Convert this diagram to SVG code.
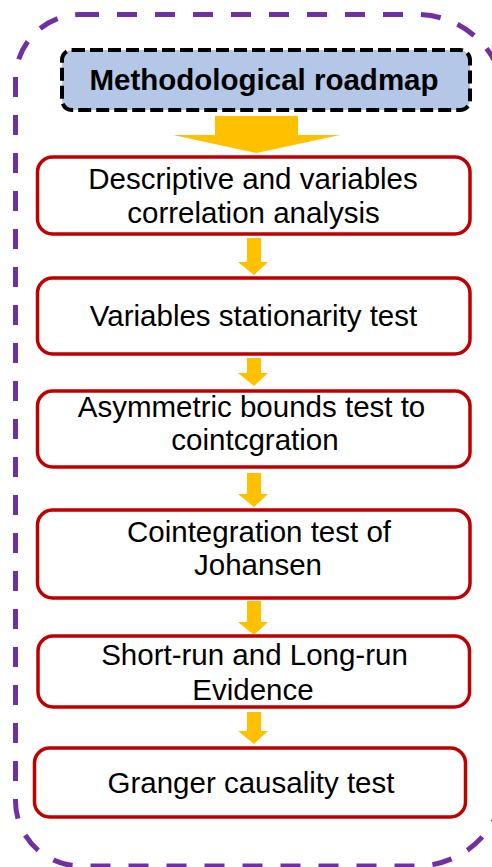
<svg xmlns="http://www.w3.org/2000/svg" width="492" height="867" viewBox="0 0 492 867">
<style>
.frame{fill:none;stroke:#7030A0;stroke-width:5;stroke-dasharray:20 18}
.title{fill:#B4C7E7;stroke:#000;stroke-width:4;stroke-dasharray:13 5}
.box{fill:#fff;stroke:#C00000;stroke-width:3.5}
.arrow{fill:#FFC000}
text{font-family:"Liberation Sans",Arial,sans-serif;font-size:29.5px;fill:#000;text-anchor:middle}
.tt{font-weight:bold}
</style>
<rect width="492" height="867" fill="#fff"/>
<path class="frame" d="M79,14.5 H417 A88,88 0 0 1 505,102.5 V778 A88,88 0 0 1 417,866 H80.5 A65,65 0 0 1 15.5,801 V79.5 A65,65 0 0 1 79,14.5 Z"/>
<g id="connectors">
<polygon class="arrow" points="215,116 298,116 298,135 340,135 256.5,153 173,135 215,135"/>
<polygon class="arrow" points="247,238 261,238 261,262 268,262 254,275 238,262 247,262"/>
<polygon class="arrow" points="247,358 261,358 261,373 268,373 254,386 238,373 247,373"/>
<polygon class="arrow" points="247,473 261,473 261,494 268,494 254,507 238,494 247,494"/>
<polygon class="arrow" points="247,601 261,601 261,622 268,622 254,635 238,622 247,622"/>
<polygon class="arrow" points="247,712 261,712 261,731 268,731 254,744 238,731 247,731"/>
</g>
<g id="title">
<rect class="title" x="62" y="50" width="408" height="60" rx="10"/>
<text class="tt" x="264" y="90">Methodological roadmap</text>
</g>
<g id="step1">
<rect class="box" x="37.5" y="157" width="432.5" height="77" rx="15"/>
<text x="253" y="189">Descriptive and variables</text>
<text x="253.5" y="223">correlation analysis</text>
</g>
<g id="step2">
<rect class="box" x="37.5" y="278" width="432.5" height="76" rx="15"/>
<text x="253.5" y="326">Variables stationarity test</text>
</g>
<g id="step3">
<rect class="box" x="37.5" y="391" width="432.5" height="76" rx="15"/>
<text x="251.5" y="417">Asymmetric bounds test to</text>
<text x="255" y="450">cointcgration</text>
</g>
<g id="step4">
<rect class="box" x="37.5" y="510" width="432.5" height="88" rx="15"/>
<text x="259" y="542">Cointegration test of</text>
<text x="258" y="575">Johansen</text>
</g>
<g id="step5">
<rect class="box" x="38" y="636" width="431.5" height="71" rx="15"/>
<text x="254.5" y="665">Short-run and Long-run</text>
<text x="253" y="700">Evidence</text>
</g>
<g id="step6">
<rect class="box" x="34.5" y="748" width="431" height="69" rx="15"/>
<text x="251" y="793">Granger causality test</text>
</g>
</svg>
